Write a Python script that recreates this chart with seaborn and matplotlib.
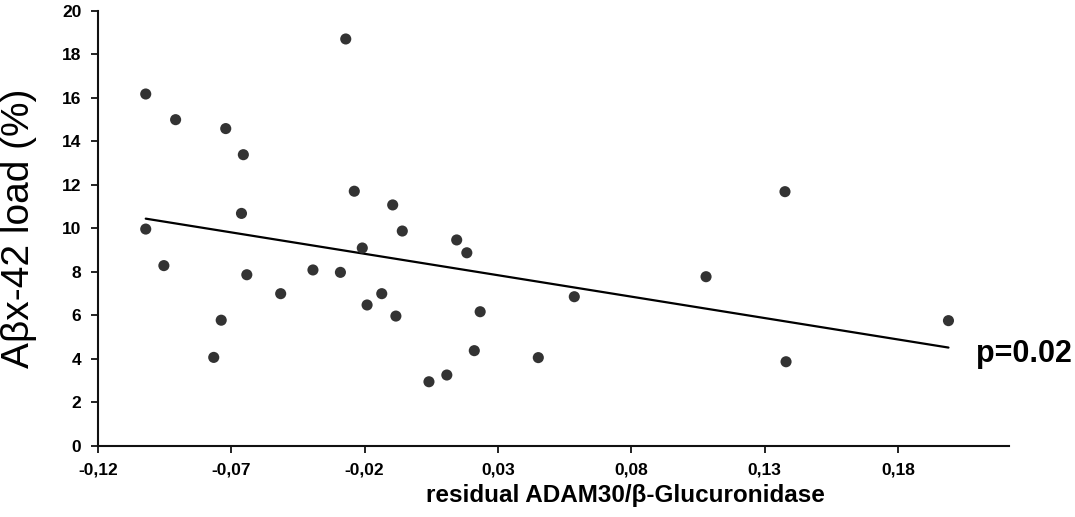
import matplotlib
matplotlib.use("Agg")
import matplotlib.pyplot as plt
from matplotlib.ticker import FixedLocator, FuncFormatter
import seaborn as sns
import pandas as pd

# ---- data ----
residual_adam30 = [
    -0.1021, -0.0909, -0.0721, -0.0655, -0.0662, -0.1021, -0.0953, -0.0642,
    -0.0515, -0.0738, -0.0766, -0.0271, -0.0239, -0.0095, -0.0059, -0.0209,
    0.0145, 0.0183, -0.0394, -0.0291, -0.0136, -0.0191, -0.0083, 0.0233,
    0.0211, 0.0108, 0.0041, 0.0586, 0.0451, 0.1080, 0.1376, 0.1380, 0.1989,
]
abeta_load = [
    16.17, 14.99, 14.58, 13.38, 10.68, 9.96, 8.28, 7.86,
    6.99, 5.77, 4.06, 18.70, 11.70, 11.07, 9.87, 9.09,
    9.46, 8.87, 8.08, 7.97, 6.99, 6.47, 5.96, 6.16,
    4.37, 3.25, 2.94, 6.85, 4.05, 7.77, 11.68, 3.86, 5.75,
]
x_ticks = [-0.12, -0.07, -0.02, 0.03, 0.08, 0.13, 0.18]
y_ticks = [0, 2, 4, 6, 8, 10, 12, 14, 16, 18, 20]
x_label = "residual ADAM30/β-Glucuronidase"
y_label = "Aβx-42 load (%)"
p_text = "p=0.02"

df = pd.DataFrame({"x": residual_adam30, "y": abeta_load})

sns.set_style("ticks")
plt.rcParams["font.family"] = ["Liberation Sans", "DejaVu Sans"]

W, H = 1075, 517
fig = plt.figure(figsize=(W / 100, H / 100), dpi=100)
ax_l, ax_r, ax_t, ax_b = 98, 1009, 10.7, 445.7
ax = fig.add_axes([ax_l / W, 1 - ax_b / H, (ax_r - ax_l) / W, (ax_b - ax_t) / H])

sns.regplot(
    data=df, x="x", y="y", ax=ax, ci=None,
    scatter_kws=dict(s=64, color="#333333", edgecolor="none", alpha=1, zorder=3),
    line_kws=dict(color="black", lw=1.6, zorder=2),
)

ax.set_xlim(-0.12, 0.2216)
ax.set_ylim(0, 20)
ax.xaxis.set_major_locator(FixedLocator(x_ticks))
ax.yaxis.set_major_locator(FixedLocator(y_ticks))
ax.xaxis.set_major_formatter(FuncFormatter(lambda v, p: f"{v:.2f}".replace(".", ",")))
ax.yaxis.set_major_formatter(FuncFormatter(lambda v, p: f"{v:.0f}"))

for s in ["top", "right"]:
    ax.spines[s].set_visible(False)
for s in ["left", "bottom"]:
    ax.spines[s].set_linewidth(1.5)
    ax.spines[s].set_color("#111111")

ax.tick_params(axis="both", direction="out", length=5, width=1.3, color="#111111",
               labelsize=12.5, pad=7, labelcolor="black")
for lab in ax.get_xticklabels() + ax.get_yticklabels():
    lab.set_fontweight("bold")

ax.set_xlabel(x_label, fontsize=17.5, fontweight="bold", color="black")
ax.set_ylabel(y_label, fontsize=28, fontweight="normal", color="black")
ax.xaxis.set_label_coords((625 - ax_l) / (ax_r - ax_l), (ax_b - 484) / (ax_b - ax_t))
ax.yaxis.set_label_coords((37 - ax_l) / (ax_r - ax_l), 0.5)

ax.text(0.2092, 3.86, p_text, fontsize=22, fontweight="bold", color="black",
        ha="left", va="baseline", clip_on=False)

fig.savefig("out.png", dpi=100, facecolor="white")
